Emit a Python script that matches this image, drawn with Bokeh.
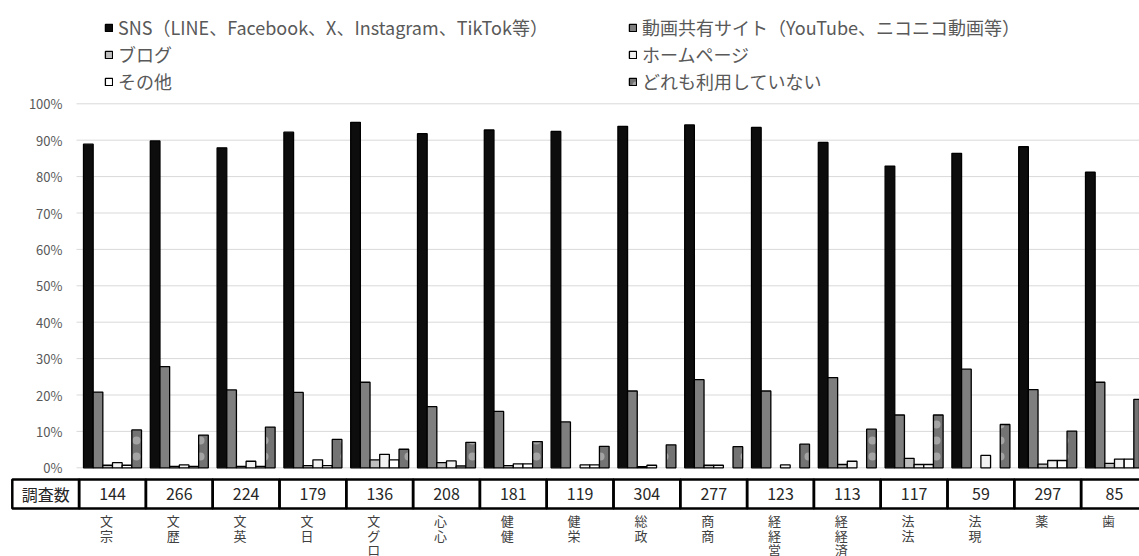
import numpy as np
from bokeh.plotting import figure
from bokeh.models import ColumnDataSource, Range1d, Legend, LegendItem
from bokeh.core.properties import value
from bokeh.embed import file_html
from bokeh.resources import INLINE

# ---------------- data ----------------
categories = ["文宗", "文歴", "文英", "文日", "文グロ", "心心", "健健", "健栄",
              "総政", "商商", "経経営", "経経済", "法法", "法現", "薬", "歯"]
counts = [144, 266, 224, 179, 136, 208, 181, 119, 304, 277, 123, 113, 117, 59, 297, 85]
count_header = "調査数"

sns      = [88.9, 89.8, 87.9, 92.2, 94.9, 91.8, 92.8, 92.4, 93.8, 94.2, 93.5, 89.4, 82.9, 86.4, 88.2, 81.2]
video    = [20.8, 27.8, 21.4, 20.7, 23.5, 16.8, 15.5, 12.6, 21.1, 24.2, 21.1, 24.8, 14.5, 27.1, 21.5, 23.5]
blog     = [0.7, 0.4, 0.4, 0.6, 2.2, 1.4, 0.6, 0.0, 0.3, 0.7, 0.0, 0.9, 2.6, 0.0, 1.0, 1.2]
homepage = [1.4, 0.8, 1.8, 2.2, 3.7, 1.9, 1.1, 0.8, 0.7, 0.7, 0.8, 1.8, 0.9, 3.4, 2.0, 2.4]
other    = [0.7, 0.4, 0.4, 0.6, 2.2, 0.5, 1.1, 0.8, 0.0, 0.0, 0.0, 0.0, 0.9, 0.0, 2.0, 2.4]
none_    = [10.4, 9.0, 11.2, 7.8, 5.1, 7.0, 7.2, 5.9, 6.3, 5.8, 6.5, 10.6, 14.5, 11.9, 10.1, 18.8]

series_names = ["SNS（LINE、Facebook、X、Instagram、TikTok等）",
                "動画共有サイト（YouTube、ニコニコ動画等）",
                "ブログ", "ホームページ", "その他", "どれも利用していない"]
series_values = [sns, video, blog, homepage, other, none_]

tick_values = [0, 10, 20, 30, 40, 50, 60, 70, 80, 90, 100]
tick_labels = ["0%", "10%", "20%", "30%", "40%", "50%", "60%", "70%", "80%", "90%", "100%"]

# ---------------- style ----------------
FONT = "Noto Sans CJK JP"
fills = ["#0d0d0d", "#7f7f7f", "#bfbfbf", "#f2f2f2", "#ffffff", "#737373"]

W, H = 1139, 556
# screen calibration (canvas pixels)
PX_PER_CAT = 66.8
CAT0_X = 112.0
ZERO_Y = 467.3
PX_PER_PCT = 3.64

def xd(px):
    return (px - CAT0_X) / PX_PER_CAT

def yd(py):
    return (ZERO_Y - py) / PX_PER_PCT

X0, X1 = xd(0), xd(W)
Y0, Y1 = yd(H), yd(0)

p = figure(width=W, height=H, x_range=Range1d(X0, X1), y_range=Range1d(Y0, Y1),
           output_backend="svg", toolbar_location=None,
           x_axis_location=None, y_axis_location=None,
           min_border=0, min_border_left=0, min_border_right=0,
           min_border_top=0, min_border_bottom=0)
p.grid.visible = False
p.outline_line_color = None
p.background_fill_color = "white"
p.border_fill_color = "white"

# gridlines
p.segment(x0=xd(76), y0=tick_values, x1=X1, y1=tick_values,
          line_color="#d9d9d9", line_width=1)
# y tick labels
p.text(x=xd(62), y=tick_values, text=tick_labels, text_align="right",
       text_baseline="middle", text_font=value(FONT), text_font_size="13px",
       text_color="#595959")

# bars
n = len(categories)
idx = np.arange(n)
nser = len(series_values)
bw = 58.0 / nser / PX_PER_CAT
renderers = []
for j, (vals, col) in enumerate(zip(series_values, fills)):
    vals = np.array(vals, dtype=float)
    keep = vals > 0
    xs = idx + (j - (nser - 1) / 2) * bw
    src = ColumnDataSource(dict(x=xs[keep], top=vals[keep]))
    kw = dict(x="x", top="top", bottom=0, width=bw, source=src,
              fill_color=col, line_color="#000000", line_width=1.3)
    if j == nser - 1:
        kw.update(hatch_pattern="dot", hatch_color="white", hatch_alpha=0.35,
                  hatch_scale=16, hatch_weight=1.5)
    r = p.vbar(**kw)
    renderers.append(r)

# table
TY_TOP, TY_BOT = yd(479), yd(508)
tx = np.arange(-1, n)
p.rect(x=tx, y=(TY_TOP + TY_BOT) / 2, width=1, height=TY_TOP - TY_BOT,
       fill_color=None, line_color="black", line_width=2.5)
p.text(x=tx, y=(TY_TOP + TY_BOT) / 2, text=[count_header] + [str(c) for c in counts],
       text_align="center", text_baseline="middle", text_font=value(FONT),
       text_font_size="16px", text_color="#262626")

# vertical category labels (stacked characters, top to bottom)
lab_x, lab_y, lab_t = [], [], []
for i, cat in enumerate(categories):
    for k, ch in enumerate(cat):
        lab_x.append(i - 0.09)
        lab_y.append(yd(520 + 14.5 * k))
        lab_t.append(ch)
p.text(x=lab_x, y=lab_y, text=lab_t, text_align="center", text_baseline="middle",
       text_font=value(FONT), text_font_size="13px", text_color="#404040")

# legend (3 rows x 2 columns)
items = [LegendItem(label=nm, renderers=[r]) for nm, r in zip(series_names, renderers)]
row_centers = [27, 54, 81]
LH = 26
for k, yc in enumerate(row_centers):
    bottom = H - (yc + LH / 2)
    leg = Legend(items=[items[2 * k], items[2 * k + 1]], orientation="horizontal",
                 location=(104, bottom), glyph_width=9, glyph_height=9,
                 label_standoff=5, label_width=506, label_height=LH, spacing=4,
                 padding=0, margin=0, border_line_color=None,
                 background_fill_alpha=0, label_text_font=FONT,
                 label_text_font_size="18px", label_text_color="#595959")
    p.add_layout(leg)

open("out.html", "w").write(file_html(p, INLINE))
